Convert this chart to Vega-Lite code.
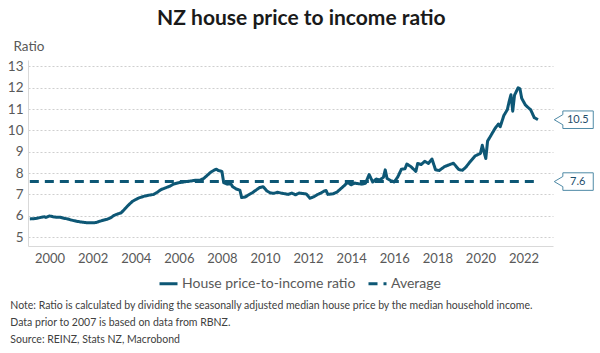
{
  "$schema": "https://vega.github.io/schema/vega-lite/v6.json",
  "background": "white",
  "padding": {"left": 7, "right": 5, "top": 8, "bottom": 2},
  "title": {"text": ["Note: Ratio is calculated by dividing the seasonally adjusted median house price by the median household income.", "Data prior to 2007 is based on data from RBNZ.", "Source: REINZ, Stats NZ, Macrobond"], "orient": "bottom", "anchor": "start", "frame": "bounds", "font": "Lato", "fontSize": 10.5, "fontWeight": "normal", "color": "#404040", "lineHeight": 17, "offset": 10, "dx": 3},
  "config": {
    "view": {"stroke": null},
    "font": "Lato",
    "concat": {"spacing": 0},
    "legend": {"orient": "none", "legendX": 130, "legendY": 213, "direction": "horizontal", "title": null, "labelFont": "Lato", "labelFontSize": 14, "labelColor": "#595959", "labelOffset": 3, "symbolType": "stroke", "symbolStrokeWidth": 3, "symbolSize": 324, "symbolStrokeColor": "#0d5775", "columnPadding": 6, "labelLimit": 300}
  },
  "datasets": {
    "ratio": [
      {"date": "1999-02", "value": 5.85, "series": "House price-to-income ratio"},
      {"date": "1999-04", "value": 5.86, "series": "House price-to-income ratio"},
      {"date": "1999-06", "value": 5.88, "series": "House price-to-income ratio"},
      {"date": "1999-08", "value": 5.92, "series": "House price-to-income ratio"},
      {"date": "1999-10", "value": 5.95, "series": "House price-to-income ratio"},
      {"date": "1999-11", "value": 5.92, "series": "House price-to-income ratio"},
      {"date": "2000-01", "value": 5.99, "series": "House price-to-income ratio"},
      {"date": "2000-03", "value": 5.95, "series": "House price-to-income ratio"},
      {"date": "2000-05", "value": 5.93, "series": "House price-to-income ratio"},
      {"date": "2000-07", "value": 5.93, "series": "House price-to-income ratio"},
      {"date": "2000-09", "value": 5.88, "series": "House price-to-income ratio"},
      {"date": "2000-11", "value": 5.85, "series": "House price-to-income ratio"},
      {"date": "2001-01", "value": 5.80, "series": "House price-to-income ratio"},
      {"date": "2001-04", "value": 5.74, "series": "House price-to-income ratio"},
      {"date": "2001-07", "value": 5.70, "series": "House price-to-income ratio"},
      {"date": "2001-10", "value": 5.67, "series": "House price-to-income ratio"},
      {"date": "2002-01", "value": 5.67, "series": "House price-to-income ratio"},
      {"date": "2002-03", "value": 5.68, "series": "House price-to-income ratio"},
      {"date": "2002-05", "value": 5.74, "series": "House price-to-income ratio"},
      {"date": "2002-07", "value": 5.79, "series": "House price-to-income ratio"},
      {"date": "2002-09", "value": 5.83, "series": "House price-to-income ratio"},
      {"date": "2002-11", "value": 5.90, "series": "House price-to-income ratio"},
      {"date": "2003-01", "value": 6.02, "series": "House price-to-income ratio"},
      {"date": "2003-03", "value": 6.08, "series": "House price-to-income ratio"},
      {"date": "2003-05", "value": 6.14, "series": "House price-to-income ratio"},
      {"date": "2003-07", "value": 6.32, "series": "House price-to-income ratio"},
      {"date": "2003-09", "value": 6.50, "series": "House price-to-income ratio"},
      {"date": "2003-11", "value": 6.66, "series": "House price-to-income ratio"},
      {"date": "2004-01", "value": 6.76, "series": "House price-to-income ratio"},
      {"date": "2004-03", "value": 6.84, "series": "House price-to-income ratio"},
      {"date": "2004-06", "value": 6.92, "series": "House price-to-income ratio"},
      {"date": "2004-09", "value": 6.97, "series": "House price-to-income ratio"},
      {"date": "2004-11", "value": 7.00, "series": "House price-to-income ratio"},
      {"date": "2005-01", "value": 7.10, "series": "House price-to-income ratio"},
      {"date": "2005-03", "value": 7.22, "series": "House price-to-income ratio"},
      {"date": "2005-06", "value": 7.32, "series": "House price-to-income ratio"},
      {"date": "2005-08", "value": 7.38, "series": "House price-to-income ratio"},
      {"date": "2005-10", "value": 7.48, "series": "House price-to-income ratio"},
      {"date": "2006-01", "value": 7.55, "series": "House price-to-income ratio"},
      {"date": "2006-03", "value": 7.57, "series": "House price-to-income ratio"},
      {"date": "2006-05", "value": 7.60, "series": "House price-to-income ratio"},
      {"date": "2006-08", "value": 7.63, "series": "House price-to-income ratio"},
      {"date": "2006-10", "value": 7.66, "series": "House price-to-income ratio"},
      {"date": "2007-01", "value": 7.67, "series": "House price-to-income ratio"},
      {"date": "2007-03", "value": 7.75, "series": "House price-to-income ratio"},
      {"date": "2007-05", "value": 7.90, "series": "House price-to-income ratio"},
      {"date": "2007-07", "value": 8.05, "series": "House price-to-income ratio"},
      {"date": "2007-09", "value": 8.15, "series": "House price-to-income ratio"},
      {"date": "2007-10", "value": 8.18, "series": "House price-to-income ratio"},
      {"date": "2007-11", "value": 8.12, "series": "House price-to-income ratio"},
      {"date": "2008-01", "value": 8.08, "series": "House price-to-income ratio"},
      {"date": "2008-02", "value": 7.55, "series": "House price-to-income ratio"},
      {"date": "2008-04", "value": 7.48, "series": "House price-to-income ratio"},
      {"date": "2008-06", "value": 7.50, "series": "House price-to-income ratio"},
      {"date": "2008-07", "value": 7.36, "series": "House price-to-income ratio"},
      {"date": "2008-09", "value": 7.25, "series": "House price-to-income ratio"},
      {"date": "2008-11", "value": 7.20, "series": "House price-to-income ratio"},
      {"date": "2008-12", "value": 6.85, "series": "House price-to-income ratio"},
      {"date": "2009-02", "value": 6.88, "series": "House price-to-income ratio"},
      {"date": "2009-04", "value": 6.98, "series": "House price-to-income ratio"},
      {"date": "2009-06", "value": 7.08, "series": "House price-to-income ratio"},
      {"date": "2009-08", "value": 7.20, "series": "House price-to-income ratio"},
      {"date": "2009-10", "value": 7.32, "series": "House price-to-income ratio"},
      {"date": "2009-12", "value": 7.36, "series": "House price-to-income ratio"},
      {"date": "2010-02", "value": 7.16, "series": "House price-to-income ratio"},
      {"date": "2010-04", "value": 7.07, "series": "House price-to-income ratio"},
      {"date": "2010-06", "value": 7.05, "series": "House price-to-income ratio"},
      {"date": "2010-08", "value": 7.10, "series": "House price-to-income ratio"},
      {"date": "2010-10", "value": 7.06, "series": "House price-to-income ratio"},
      {"date": "2010-12", "value": 7.03, "series": "House price-to-income ratio"},
      {"date": "2011-02", "value": 7.00, "series": "House price-to-income ratio"},
      {"date": "2011-04", "value": 7.06, "series": "House price-to-income ratio"},
      {"date": "2011-06", "value": 6.98, "series": "House price-to-income ratio"},
      {"date": "2011-08", "value": 7.06, "series": "House price-to-income ratio"},
      {"date": "2011-10", "value": 7.04, "series": "House price-to-income ratio"},
      {"date": "2011-12", "value": 7.02, "series": "House price-to-income ratio"},
      {"date": "2012-02", "value": 6.82, "series": "House price-to-income ratio"},
      {"date": "2012-04", "value": 6.88, "series": "House price-to-income ratio"},
      {"date": "2012-06", "value": 6.98, "series": "House price-to-income ratio"},
      {"date": "2012-08", "value": 7.06, "series": "House price-to-income ratio"},
      {"date": "2012-10", "value": 7.16, "series": "House price-to-income ratio"},
      {"date": "2012-11", "value": 7.18, "series": "House price-to-income ratio"},
      {"date": "2012-12", "value": 7.00, "series": "House price-to-income ratio"},
      {"date": "2013-03", "value": 7.03, "series": "House price-to-income ratio"},
      {"date": "2013-05", "value": 7.10, "series": "House price-to-income ratio"},
      {"date": "2013-07", "value": 7.25, "series": "House price-to-income ratio"},
      {"date": "2013-09", "value": 7.40, "series": "House price-to-income ratio"},
      {"date": "2013-11", "value": 7.56, "series": "House price-to-income ratio"},
      {"date": "2014-01", "value": 7.45, "series": "House price-to-income ratio"},
      {"date": "2014-03", "value": 7.53, "series": "House price-to-income ratio"},
      {"date": "2014-05", "value": 7.50, "series": "House price-to-income ratio"},
      {"date": "2014-07", "value": 7.48, "series": "House price-to-income ratio"},
      {"date": "2014-09", "value": 7.52, "series": "House price-to-income ratio"},
      {"date": "2014-11", "value": 7.93, "series": "House price-to-income ratio"},
      {"date": "2015-01", "value": 7.58, "series": "House price-to-income ratio"},
      {"date": "2015-03", "value": 7.72, "series": "House price-to-income ratio"},
      {"date": "2015-05", "value": 7.68, "series": "House price-to-income ratio"},
      {"date": "2015-07", "value": 7.80, "series": "House price-to-income ratio"},
      {"date": "2015-08", "value": 8.15, "series": "House price-to-income ratio"},
      {"date": "2015-09", "value": 7.75, "series": "House price-to-income ratio"},
      {"date": "2015-11", "value": 7.65, "series": "House price-to-income ratio"},
      {"date": "2016-01", "value": 7.58, "series": "House price-to-income ratio"},
      {"date": "2016-03", "value": 7.82, "series": "House price-to-income ratio"},
      {"date": "2016-05", "value": 8.18, "series": "House price-to-income ratio"},
      {"date": "2016-07", "value": 8.20, "series": "House price-to-income ratio"},
      {"date": "2016-08", "value": 8.42, "series": "House price-to-income ratio"},
      {"date": "2016-10", "value": 8.32, "series": "House price-to-income ratio"},
      {"date": "2017-01", "value": 8.08, "series": "House price-to-income ratio"},
      {"date": "2017-02", "value": 8.45, "series": "House price-to-income ratio"},
      {"date": "2017-04", "value": 8.40, "series": "House price-to-income ratio"},
      {"date": "2017-06", "value": 8.55, "series": "House price-to-income ratio"},
      {"date": "2017-08", "value": 8.45, "series": "House price-to-income ratio"},
      {"date": "2017-10", "value": 8.66, "series": "House price-to-income ratio"},
      {"date": "2017-12", "value": 8.15, "series": "House price-to-income ratio"},
      {"date": "2018-02", "value": 8.12, "series": "House price-to-income ratio"},
      {"date": "2018-05", "value": 8.30, "series": "House price-to-income ratio"},
      {"date": "2018-08", "value": 8.40, "series": "House price-to-income ratio"},
      {"date": "2018-10", "value": 8.46, "series": "House price-to-income ratio"},
      {"date": "2019-01", "value": 8.16, "series": "House price-to-income ratio"},
      {"date": "2019-03", "value": 8.13, "series": "House price-to-income ratio"},
      {"date": "2019-05", "value": 8.28, "series": "House price-to-income ratio"},
      {"date": "2019-07", "value": 8.50, "series": "House price-to-income ratio"},
      {"date": "2019-10", "value": 8.80, "series": "House price-to-income ratio"},
      {"date": "2020-01", "value": 8.92, "series": "House price-to-income ratio"},
      {"date": "2020-02", "value": 9.30, "series": "House price-to-income ratio"},
      {"date": "2020-04", "value": 8.68, "series": "House price-to-income ratio"},
      {"date": "2020-05", "value": 9.50, "series": "House price-to-income ratio"},
      {"date": "2020-07", "value": 9.78, "series": "House price-to-income ratio"},
      {"date": "2020-09", "value": 10.08, "series": "House price-to-income ratio"},
      {"date": "2020-11", "value": 10.30, "series": "House price-to-income ratio"},
      {"date": "2020-12", "value": 10.17, "series": "House price-to-income ratio"},
      {"date": "2021-02", "value": 10.70, "series": "House price-to-income ratio"},
      {"date": "2021-04", "value": 10.97, "series": "House price-to-income ratio"},
      {"date": "2021-05", "value": 11.35, "series": "House price-to-income ratio"},
      {"date": "2021-06", "value": 11.67, "series": "House price-to-income ratio"},
      {"date": "2021-07", "value": 10.90, "series": "House price-to-income ratio"},
      {"date": "2021-08", "value": 11.65, "series": "House price-to-income ratio"},
      {"date": "2021-10", "value": 12.00, "series": "House price-to-income ratio"},
      {"date": "2021-11", "value": 11.95, "series": "House price-to-income ratio"},
      {"date": "2021-12", "value": 11.50, "series": "House price-to-income ratio"},
      {"date": "2022-02", "value": 11.19, "series": "House price-to-income ratio"},
      {"date": "2022-04", "value": 11.04, "series": "House price-to-income ratio"},
      {"date": "2022-05", "value": 10.97, "series": "House price-to-income ratio"},
      {"date": "2022-07", "value": 10.60, "series": "House price-to-income ratio"},
      {"date": "2022-09", "value": 10.50, "series": "House price-to-income ratio"},
      {"date": "1999-02", "value": 7.6, "series": "Average"},
      {"date": "2022-09", "value": 7.6, "series": "Average"}
    ],
    "callouts": [
      {"date": "2024-05", "value": 10.5, "label": "10.5"},
      {"date": "2024-05", "value": 7.6, "label": "7.6"}
    ]
  },
  "vconcat": [
    {
      "width": 525,
      "height": 186,
      "title": {"text": "NZ house price to income ratio", "orient": "top", "font": "Lato", "fontSize": 21, "fontWeight": "bold", "color": "#1a1a1a", "anchor": "middle", "frame": "bounds", "offset": 10},
      "encoding": {
        "x": {"field": "date", "type": "temporal", "scale": {"domain": [{"year": 1999, "month": 1, "date": 1}, {"year": 2023, "month": 5, "date": 15}]}, "axis": {"title": null, "format": "%Y", "tickCount": {"interval": "year", "step": 2}, "ticks": false, "tickSize": 0, "grid": false, "domainColor": "#d9d9d9", "domainWidth": 1, "labelFont": "Lato", "labelFontSize": 13, "labelColor": "#595959", "labelPadding": 6, "labelFlush": false, "labelOverlap": false}},
        "y": {"field": "value", "type": "quantitative", "scale": {"domain": [4.58, 13.3], "nice": false, "zero": false}, "axis": {"title": "Ratio", "titleAngle": 0, "titleAlign": "left", "titleBaseline": "middle", "titleX": -15, "titleY": -14, "titleFont": "Lato", "titleFontSize": 13.5, "titleFontWeight": "normal", "titleColor": "#595959", "values": [5, 6, 7, 8, 9, 10, 11, 12, 13], "ticks": false, "tickSize": 0, "labelPadding": 5, "labelFont": "Lato", "labelFontSize": 13.5, "labelColor": "#595959", "domainColor": "#d9d9d9", "grid": true, "gridColor": "#cfcfcf", "gridDash": [2, 2], "gridWidth": 1}}
      },
      "layer": [
        {
          "data": {"name": "ratio"},
          "mark": {"type": "line", "strokeWidth": 3, "color": "#0d5775", "strokeCap": "butt", "strokeJoin": "round"},
          "encoding": {
            "strokeDash": {"field": "series", "type": "nominal", "scale": {"domain": ["House price-to-income ratio", "Average"], "range": [[1, 0], [9, 6]]}}
          }
        },
        {
          "data": {"name": "callouts"},
          "mark": {"type": "point", "shape": "M-0.56,-0.45L1,-0.45L1,0.45L-0.56,0.45L-0.56,0.26L-1,0L-0.56,-0.26Z", "size": 1521, "filled": true, "fill": "white", "stroke": "#4f8aa6", "strokeWidth": 1, "opacity": 1}
        },
        {
          "data": {"name": "callouts"},
          "mark": {"type": "text", "font": "Lato", "fontSize": 11, "color": "#1f4e6b", "dx": 4, "align": "center", "baseline": "middle"},
          "encoding": {"text": {"field": "label"}}
        }
      ]
    }
  ]
}
